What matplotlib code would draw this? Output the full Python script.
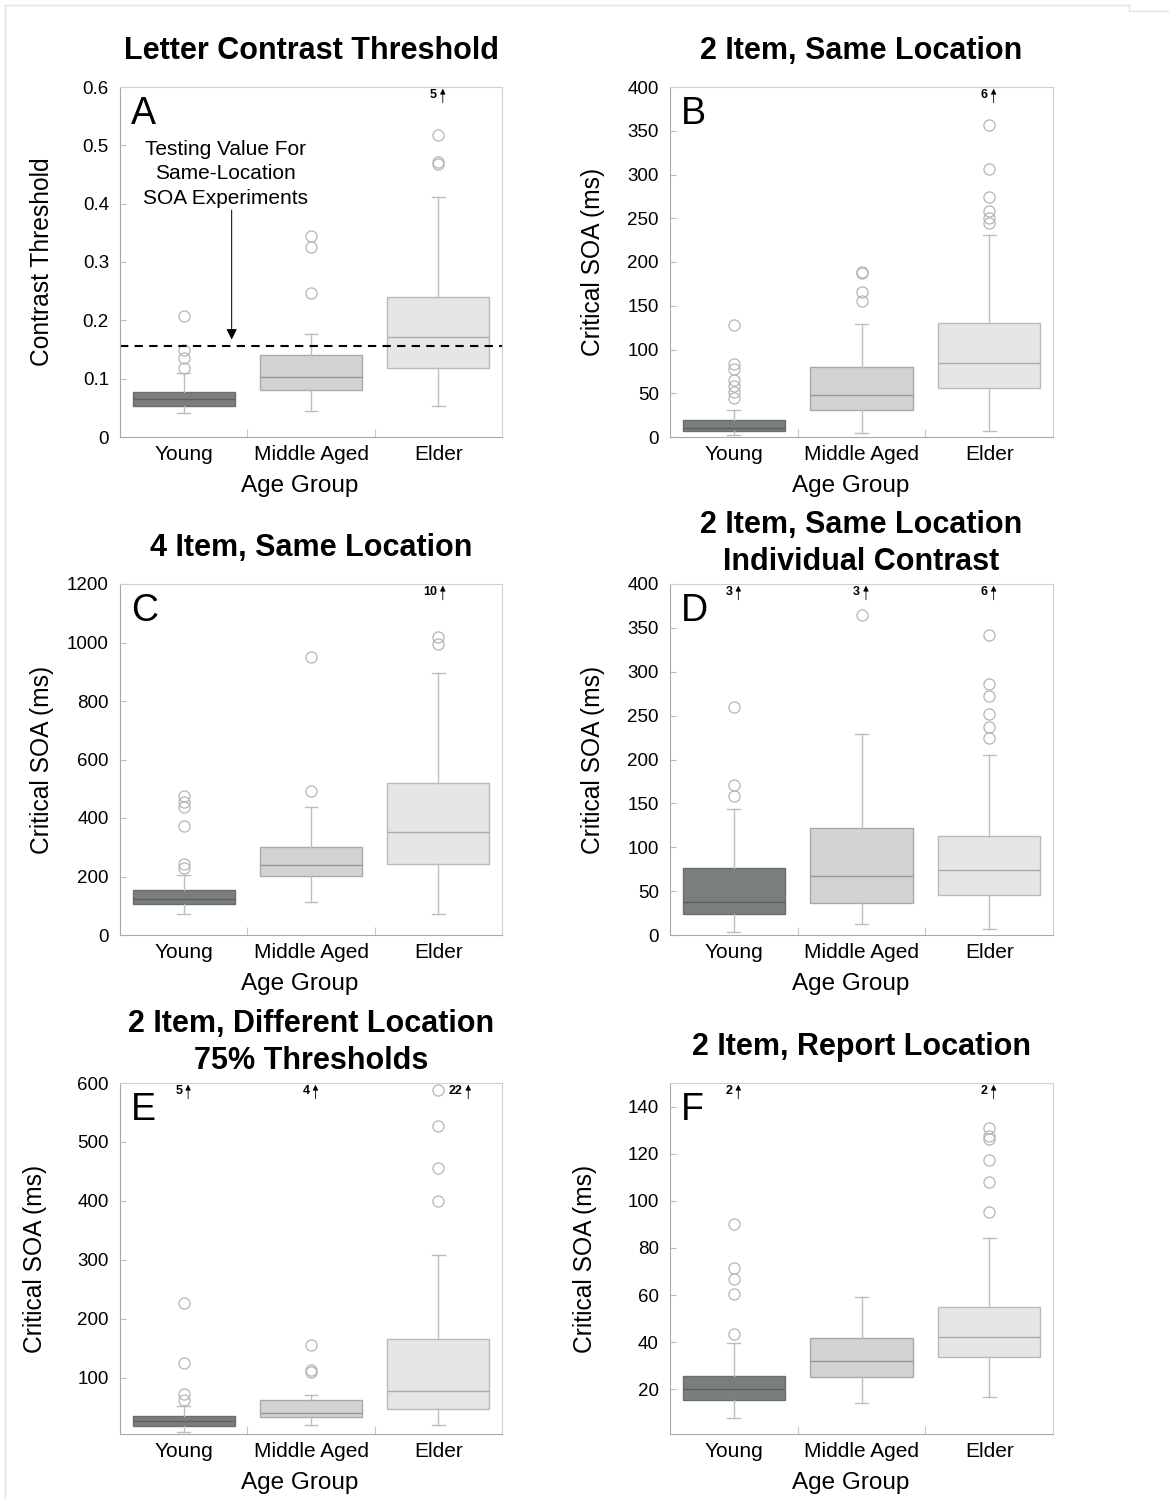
import matplotlib
matplotlib.use('Agg')
import matplotlib.pyplot as plt
from matplotlib.lines import Line2D

plt.rcParams['font.family'] = ['Liberation Sans', 'DejaVu Sans']

groups = ['Young', 'Middle Aged', 'Elder']
box_colors = ['#7a7f7e', '#d3d3d3', '#e6e6e6']
edge_colors = ['#6a6e6d', '#a9a9a9', '#b9b9b9']
median_colors = ['#5c605f', '#999999', '#ababab']

# A: letter contrast threshold
a_whislo = [0.041, 0.044, 0.053]
a_q1 = [0.053, 0.080, 0.119]
a_med = [0.066, 0.103, 0.172]
a_q3 = [0.078, 0.140, 0.240]
a_whishi = [0.110, 0.176, 0.412]
a_fliers = [[0.118, 0.136, 0.149, 0.207], [0.247, 0.326, 0.345], [0.468, 0.472, 0.517]]
a_above = [0, 0, 5]

# B: 2 item, same location
b_whislo = [2.8, 4.3, 7.4]
b_q1 = [6.9, 31.1, 56.4]
b_med = [10.8, 48.0, 84.5]
b_q3 = [18.9, 80.2, 130.0]
b_whishi = [30.4, 129.3, 231.0]
b_fliers = [[44.9, 51.8, 58.3, 65.2, 78.2, 83.7, 128.0],
            [156.0, 166.0, 186.9, 188.7],
            [244.8, 250.2, 258.6, 273.9, 306.6, 356.7]]
b_above = [0, 0, 6]

# C: 4 item, same location
c_whislo = [72.9, 113.0, 72.2]
c_q1 = [107.5, 202.7, 242.6]
c_med = [124.6, 239.0, 351.6]
c_q3 = [153.0, 300.5, 518.6]
c_whishi = [204.3, 437.8, 896.8]
c_fliers = [[229.8, 243.4, 373.0, 436.8, 453.8, 476.3], [492.0, 949.9], [994.0, 1020.0]]
c_above = [0, 0, 10]

# D: 2 item, same location, individual contrast
d_whislo = [3.0, 12.5, 6.8]
d_q1 = [24.2, 36.7, 45.5]
d_med = [37.5, 67.1, 73.9]
d_q3 = [76.9, 121.7, 112.6]
d_whishi = [143.3, 228.8, 205.4]
d_fliers = [[158.8, 171.0, 260.0], [365.0],
            [224.0, 237.6, 251.3, 272.5, 286.5, 341.5]]
d_above = [3, 3, 6]

# E: 2 item, different location, 75% thresholds
e_whislo = [9.2, 21.0, 21.0]
e_q1 = [18.7, 34.6, 48.1]
e_med = [26.6, 41.4, 77.5]
e_q3 = [36.3, 63.4, 166.8]
e_whishi = [53.2, 71.9, 309.2]
e_fliers = [[63.4, 72.4, 126.1, 227.8], [110.2, 113.0, 155.4],
            [400.7, 455.4, 526.6, 587.6]]
e_above = [5, 4, 22]

# F: 2 item, report location
f_whislo = [7.7, 14.2, 16.5]
f_q1 = [15.5, 25.2, 33.6]
f_med = [20.0, 32.0, 42.2]
f_q3 = [25.6, 41.7, 54.9]
f_whishi = [39.6, 59.0, 84.1]
f_fliers = [[43.4, 60.4, 67.0, 71.5, 90.1], [],
            [95.3, 108.1, 117.3, 126.3, 127.7, 130.9]]
f_above = [2, 0, 2]

dashed_level = 0.156

W, H = 1169, 1499
fig = plt.figure(figsize=(W / 100, H / 100), dpi=100)


def px_axes(left, top, right, bottom):
    return fig.add_axes([left / W, 1 - bottom / H, (right - left) / W, (bottom - top) / H])


def draw_panel(ax, letter, title, whislo, q1, med, q3, whishi, fliers, above,
               ylim, yticks, yticklabels, ylabel, ylabel_x, title_pad, above_dx=None):
    stats = []
    for i in range(3):
        stats.append(dict(whislo=whislo[i], q1=q1[i], med=med[i], q3=q3[i],
                          whishi=whishi[i], fliers=fliers[i], label=groups[i]))
    bp = ax.bxp(stats, positions=[0, 1, 2], widths=0.8, capwidths=0.1,
                patch_artist=True, showfliers=True,
                whiskerprops=dict(color='#bdbdbd', lw=1.0),
                capprops=dict(color='#bdbdbd', lw=1.0),
                flierprops=dict(marker='o', markerfacecolor='none',
                                markeredgecolor='#b5b5b5', markersize=8, markeredgewidth=0.9))
    for i, box in enumerate(bp['boxes']):
        box.set_facecolor(box_colors[i])
        box.set_edgecolor(edge_colors[i])
        box.set_linewidth(1.0)
        bp['medians'][i].set_color(median_colors[i])
        bp['medians'][i].set_linewidth(1.0)

    ax.set_xlim(-0.5, 2.5)
    ax.set_ylim(*ylim)
    ax.set_yticks(yticks)
    ax.set_yticklabels(yticklabels)
    ax.set_xticks([0, 1, 2])
    ax.set_xticklabels(groups)
    ax.set_xticks([0.5, 1.5], minor=True)
    ax.tick_params(axis='x', which='major', length=0, labelsize=15, pad=6)
    ax.tick_params(axis='x', which='minor', direction='in', length=6, color='#c8c8c8', width=0.8)
    ax.tick_params(axis='y', direction='in', length=4, color='#bbbbbb', width=0.8,
                   labelsize=13.5, pad=8)
    for side in ['left', 'bottom']:
        ax.spines[side].set_color('#a8a8a8')
    for side in ['top', 'right']:
        ax.spines[side].set_color('#d0d0d0')

    ax.set_ylabel(ylabel, fontsize=17.7)
    ax.yaxis.set_label_coords(ylabel_x, 0.5)
    ax.set_xlabel('Age Group', fontsize=17.5)
    ax.xaxis.set_label_coords(0.471, -0.14)
    ax.xaxis.label.set_va('center')
    ax.set_title(title, fontsize=22, fontweight='bold', pad=title_pad, linespacing=1.32)

    ax.text(0.028, 0.975, letter, transform=ax.transAxes, fontsize=27, va='top', ha='left')

    # counts of values beyond the top of the scale
    trans = ax.get_xaxis_transform()
    for i, n in enumerate(above):
        if not n:
            continue
        dx = 0.0 if above_dx is None else above_dx[i]
        ax.text(i - 0.01 + dx, 0.977, str(n), transform=trans, fontsize=9,
                fontweight='bold', ha='right', va='center')
        ax.annotate('', xy=(i + 0.035 + dx, 0.995), xytext=(i + 0.035 + dx, 0.955),
                    xycoords=trans, textcoords=trans,
                    arrowprops=dict(arrowstyle='-|>', color='black', lw=0.6,
                                    mutation_scale=8, shrinkA=0, shrinkB=0))


ax_a = px_axes(120, 87, 502, 437)
draw_panel(ax_a, 'A', 'Letter Contrast Threshold', a_whislo, a_q1, a_med, a_q3, a_whishi,
           a_fliers, a_above, (0, 0.6), [0, 0.1, 0.2, 0.3, 0.4, 0.5, 0.6],
           ['0', '0.1', '0.2', '0.3', '0.4', '0.5', '0.6'], 'Contrast Threshold', -0.173, 20)
ax_a.axhline(dashed_level, color='black', ls='--', lw=1.5, dashes=(4, 3))
ax_a.annotate('', xy=(0.377, 0.167), xytext=(0.377, 0.389),
              arrowprops=dict(arrowstyle='-|>', color='black', lw=0.7,
                              mutation_scale=16, shrinkA=0, shrinkB=0))
ax_a.text(0.325, 0.451, 'Testing Value For\nSame-Location\nSOA Experiments',
          fontsize=15, ha='center', va='center', linespacing=1.38)

ax_b = px_axes(670, 87, 1053, 437)
draw_panel(ax_b, 'B', '2 Item, Same Location', b_whislo, b_q1, b_med, b_q3, b_whishi,
           b_fliers, b_above, (0, 400), list(range(0, 401, 50)),
           [str(v) for v in range(0, 401, 50)], 'Critical SOA (ms)', -0.170, 20)

ax_c = px_axes(120, 584, 502, 935)
draw_panel(ax_c, 'C', '4 Item, Same Location', c_whislo, c_q1, c_med, c_q3, c_whishi,
           c_fliers, c_above, (0, 1200), list(range(0, 1201, 200)),
           [str(v) for v in range(0, 1201, 200)], 'Critical SOA (ms)', -0.173, 20)

ax_d = px_axes(670, 584, 1053, 935)
draw_panel(ax_d, 'D', '2 Item, Same Location\nIndividual Contrast', d_whislo, d_q1, d_med,
           d_q3, d_whishi, d_fliers, d_above, (0, 400), list(range(0, 401, 50)),
           [str(v) for v in range(0, 401, 50)], 'Critical SOA (ms)', -0.170, 10)

ax_e = px_axes(120, 1083, 502, 1434)
draw_panel(ax_e, 'E', '2 Item, Different Location\n75% Thresholds', e_whislo, e_q1, e_med,
           e_q3, e_whishi, e_fliers, e_above, (5, 600), list(range(100, 601, 100)),
           [str(v) for v in range(100, 601, 100)], 'Critical SOA (ms)', -0.191, 10,
           above_dx=[0, 0, 0.2])

ax_f = px_axes(670, 1083, 1053, 1434)
draw_panel(ax_f, 'F', '2 Item, Report Location', f_whislo, f_q1, f_med, f_q3, f_whishi,
           f_fliers, f_above, (1, 150), list(range(20, 141, 20)),
           [str(v) for v in range(20, 141, 20)], 'Critical SOA (ms)', -0.191, 20)

# faint page frame
frame = dict(color='#e2e2e2', lw=1.0, transform=fig.transFigure)
fig.add_artist(Line2D([5 / W, 5 / W], [0, 1 - 5 / H], **frame))
fig.add_artist(Line2D([5 / W, 1129 / W], [1 - 5 / H, 1 - 5 / H], **frame))
fig.add_artist(Line2D([1129 / W, 1129 / W], [1 - 5 / H, 1 - 11 / H], **frame))
fig.add_artist(Line2D([1129 / W, 1], [1 - 11 / H, 1 - 11 / H], **frame))

fig.savefig('out.png', dpi=100)
